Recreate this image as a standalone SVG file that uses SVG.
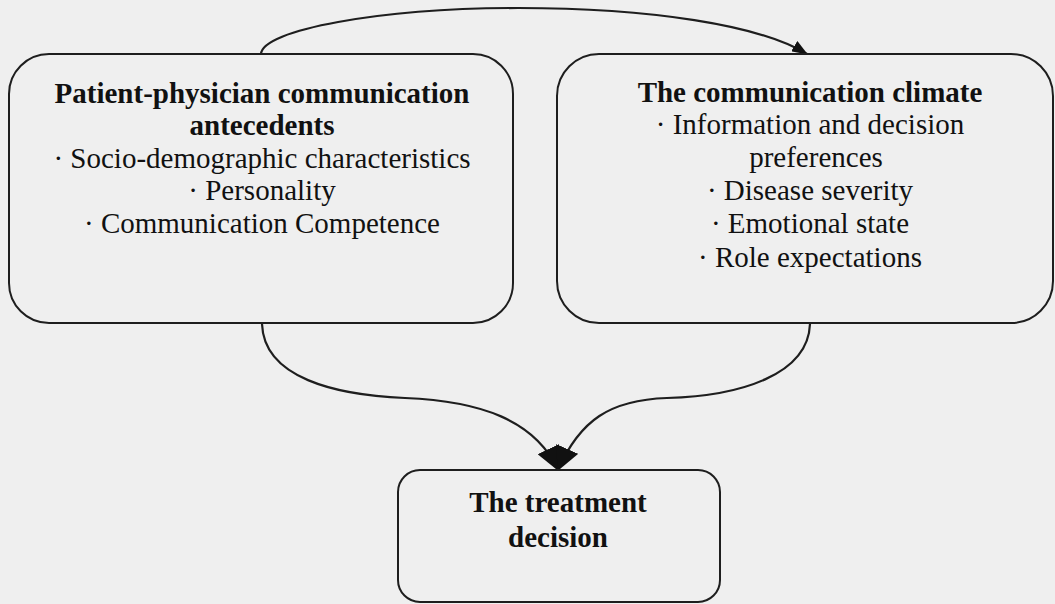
<svg xmlns="http://www.w3.org/2000/svg" width="1055" height="604" viewBox="0 0 1055 604">
  <style>
    .box { fill: none; stroke: #1e1e1e; stroke-width: 2; }
    .conn { fill: none; stroke: #1e1e1e; stroke-width: 2.2; }
    .t { font-family: "Liberation Serif", "Times New Roman", serif; font-size: 29px; fill: #111; text-anchor: middle; }
    .b { font-weight: bold; }
  </style>
  <defs>
    <marker id="arrowBig" viewBox="0 0 24 24" refX="23" refY="12" markerWidth="24" markerHeight="24" markerUnits="userSpaceOnUse" orient="auto">
      <path d="M0,0 L24,12 L0,24 z" fill="#111"/>
    </marker>
    <marker id="arrowSmall" viewBox="0 0 16 12" refX="15" refY="6" markerWidth="16" markerHeight="12" markerUnits="userSpaceOnUse" orient="auto">
      <path d="M0,0 L16,6 L0,12 z" fill="#111"/>
    </marker>
  </defs>
  <rect x="0" y="0" width="1055" height="604" fill="#efefef"/>

  <g id="connectors">
    <path class="conn" d="M261,54 C262,30 380,8 518,8 C650,8 760,25 807,54" marker-end="url(#arrowSmall)"/>
    <path class="conn" d="M262,324 C264,378 335,395 405,398 C480,401 535,420 558,470" marker-end="url(#arrowBig)"/>
    <path class="conn" d="M810,324 C808,375 740,396 667,398 C610,400 580,420 558,470" marker-end="url(#arrowBig)"/>
  </g>

  <g id="node-antecedents">
    <rect class="box" x="9" y="54" width="504" height="269" rx="40" ry="40"/>
    <text class="t b" x="262" y="103">Patient-physician communication</text>
    <text class="t b" x="262" y="135">antecedents</text>
    <text class="t" x="262" y="168">· Socio-demographic characteristics</text>
    <text class="t" x="262" y="200">· Personality</text>
    <text class="t" x="262" y="233">· Communication Competence</text>
  </g>

  <g id="node-climate">
    <rect class="box" x="557" y="54" width="496" height="269" rx="42" ry="42"/>
    <text class="t b" x="810" y="102">The communication climate</text>
    <text class="t" x="810" y="134">· Information and decision</text>
    <text class="t" x="816" y="167">preferences</text>
    <text class="t" x="810" y="200">· Disease severity</text>
    <text class="t" x="810" y="233">· Emotional state</text>
    <text class="t" x="810" y="267">· Role expectations</text>
  </g>

  <g id="node-decision">
    <rect class="box" x="398" y="470" width="322" height="132" rx="22" ry="22"/>
    <text class="t b" x="558" y="512">The treatment</text>
    <text class="t b" x="558" y="547">decision</text>
  </g>
</svg>
